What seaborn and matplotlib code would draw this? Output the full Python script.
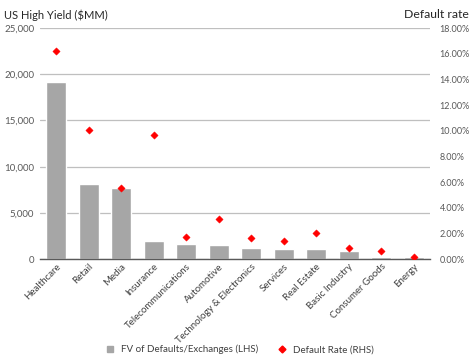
import matplotlib
matplotlib.use("Agg")
import matplotlib.pyplot as plt
import seaborn as sns
import pandas as pd
from matplotlib.ticker import FuncFormatter
from matplotlib.lines import Line2D

categories = ["Healthcare", "Retail", "Media", "Insurance", "Telecommunications",
              "Automotive", "Technology & Electronics", "Services", "Real Estate",
              "Basic Industry", "Consumer Goods", "Energy"]
fv_defaults = [19200, 8150, 7750, 1980, 1650, 1540, 1220, 1150, 1110, 860, 215, 230]
default_rate = [16.2, 10.05, 5.57, 9.7, 1.71, 3.16, 1.66, 1.40, 2.05, 0.85, 0.62, 0.15]

df = pd.DataFrame({"cat": categories, "fv": fv_defaults, "rate": default_rate})

sns.set_style("white")
plt.rcParams["font.family"] = ["Lato", "DejaVu Sans"]

fig = plt.figure(figsize=(4.74, 3.64), dpi=100)
ax = fig.add_axes([0.084, 0.288, 0.823, 0.635])

sns.barplot(data=df, x="cat", y="fv", color="#a6a6a6", width=0.62,
            saturation=1, ax=ax, zorder=2)
ax.set_ylim(0, 25000)
ax.set_yticks(range(0, 25001, 5000))
ax.yaxis.set_major_formatter(FuncFormatter(lambda v, p: f"{int(v):,}"))
ax.grid(axis="y", color="#bfbfbf", linewidth=0.9, zorder=0)
ax.set_axisbelow(True)
ax.set_xlabel("")
ax.set_ylabel("")
for s in ["top", "right", "left"]:
    ax.spines[s].set_visible(False)
ax.spines["bottom"].set_color("#595959")
ax.spines["bottom"].set_linewidth(1.0)
ax.tick_params(axis="y", length=0, labelsize=7, labelcolor="#595959", pad=4)
ax.tick_params(axis="x", length=0, labelsize=7, labelcolor="#404040", pad=2)
ax.set_xticks(range(len(categories)))
ax.set_xticklabels(categories, rotation=45, ha="right", rotation_mode="anchor")
ax.set_xlim(-0.5, len(categories) - 0.5)

ax2 = ax.twinx()
sns.scatterplot(data=df, x="cat", y="rate", marker="D", color="#ff0000",
                edgecolor="#ff0000", s=14, ax=ax2, zorder=3, legend=False)
ax2.set_ylim(0, 18)
ax2.set_yticks(range(0, 19, 2))
ax2.yaxis.set_major_formatter(FuncFormatter(lambda v, p: f"{v:.2f}%"))
ax2.set_ylabel("")
for s in ["top", "right", "left", "bottom"]:
    ax2.spines[s].set_visible(False)
ax2.tick_params(axis="y", length=0, labelsize=6.5, labelcolor="#595959", pad=7)

fig.text(0.008, 0.975, "US High Yield ($MM)", fontsize=8, color="#262626", va="top")
fig.text(0.99, 0.975, "Default rate", fontsize=8.8, color="#262626", va="top", ha="right")

handles = [
    Line2D([0], [0], marker="s", linestyle="none", color="#a6a6a6", markersize=4,
           label="FV of Defaults/Exchanges (LHS)"),
    Line2D([0], [0], marker="D", linestyle="none", color="#ff0000", markersize=3.5,
           label="Default Rate (RHS)"),
]
fig.legend(handles=handles, loc="center", bbox_to_anchor=(0.5, 0.04), ncol=2,
           frameon=False, fontsize=7, handletextpad=0.1, columnspacing=1.5,
           labelcolor="#404040")

fig.savefig("out.png", dpi=100, facecolor="white")
